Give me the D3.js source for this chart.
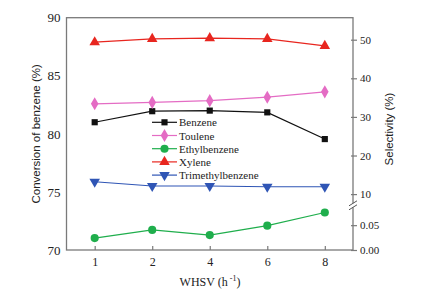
<!DOCTYPE html>
<html>
<head>
<meta charset="utf-8">
<script src="https://cdn.jsdelivr.net/npm/d3@7"></script>
<style>
html,body{margin:0;padding:0;background:#fff;}
svg{display:block;}
</style>
</head>
<body>
<svg id="chart" width="422" height="293"></svg>
<script>
// ---- data ----
const whsv = ["1", "2", "4", "6", "8"];
const benzene = [81.0, 81.95, 82.0, 81.85, 79.55];          // conversion, left axis
const toulene = [33.4, 33.75, 34.2, 35.1, 36.5];            // selectivity, right axis
const ethylbenzene = [0.024, 0.0405, 0.030, 0.049, 0.0755]; // selectivity, right axis (broken part)
const xylene = [49.35, 50.2, 50.4, 50.2, 48.4];             // selectivity, right axis
const trimethylbenzene = [13.2, 12.1, 12.1, 11.9, 11.9];    // selectivity, right axis
const leftTicks = [70, 75, 80, 85, 90];
const rightTicks = [0, 0.05, 10, 20, 30, 40, 50];
const rightTickLabels = ["0.00", "0.05", "10", "20", "30", "40", "50"];

const series = [
  {name: "Benzene", values: benzene, axis: "left", color: "#111111", shape: "square"},
  {name: "Toulene", values: toulene, axis: "right", color: "#e46cc4", shape: "diamond"},
  {name: "Ethylbenzene", values: ethylbenzene, axis: "right", color: "#1fae4c", shape: "circle"},
  {name: "Xylene", values: xylene, axis: "right", color: "#e8261f", shape: "triangle"},
  {name: "Trimethylbenzene", values: trimethylbenzene, axis: "right", color: "#2f55b5", shape: "triangleDown"}
];

// ---- layout ----
const L = 66.5, R = 353, T = 17.7, B = 250;
const breakY = 205.3;
const serif = "'Liberation Serif','Times New Roman',serif";
const sans = "'Liberation Sans',Arial,sans-serif";
const axisColor = "#7a7a7a";

const svg = d3.select("#chart");

const x = d3.scalePoint().domain(whsv).range([L, R]).padding(0.49);
const yL = d3.scaleLinear().domain([70, 90]).range([B, T]);
const yR = d3.scaleLinear().domain([0, 0.09, 7.1, 55.7]).range([B, breakY, breakY, T]);

// frame
svg.append("rect").attr("x", L).attr("y", T).attr("width", R - L).attr("height", B - T)
  .attr("fill", "none").attr("stroke", axisColor).attr("stroke-width", 1.3);

// x axis
const xAxis = d3.axisBottom(x).tickSizeInner(-4).tickSizeOuter(0).tickPadding(7);
const gx = svg.append("g").attr("transform", `translate(0,${B})`).call(xAxis);
gx.select(".domain").remove();
gx.selectAll(".tick line").attr("stroke", axisColor).attr("stroke-width", 1.2);
gx.selectAll(".tick text").attr("font-family", serif).attr("font-size", 12).attr("fill", "#222");

// left axis
const yAxisL = d3.axisLeft(yL).tickValues(leftTicks).tickSizeInner(0).tickSizeOuter(0).tickPadding(6);
const gl = svg.append("g").attr("transform", `translate(${L},0)`).call(yAxisL);
gl.select(".domain").remove();
gl.selectAll(".tick text").attr("font-family", serif).attr("font-size", 13).attr("fill", "#222");

// right axis
const yAxisR = d3.axisRight(yR).tickValues(rightTicks)
  .tickFormat((d, i) => rightTickLabels[i]).tickSizeInner(4).tickSizeOuter(0).tickPadding(3);
const gr = svg.append("g").attr("transform", `translate(${R},0)`).call(yAxisR);
gr.select(".domain").remove();
gr.selectAll(".tick line").attr("stroke", axisColor).attr("stroke-width", 1.2).attr("x1", -2);
gr.selectAll(".tick text").attr("font-family", serif).attr("font-size", 11).attr("fill", "#222");

// axis break marks
svg.append("rect").attr("x", R - 2).attr("y", breakY - 2).attr("width", 4).attr("height", 4).attr("fill", "#fff");
[-2, 2].forEach(o => {
  svg.append("line")
    .attr("x1", R - 4).attr("y1", breakY + o + 2.5)
    .attr("x2", R + 4).attr("y2", breakY + o - 2.5)
    .attr("stroke", "#555").attr("stroke-width", 1);
});

// axis titles
svg.append("text").attr("transform", `translate(40,${(T + B) / 2}) rotate(-90)`)
  .attr("text-anchor", "middle").attr("font-family", sans).attr("font-size", 11.5).attr("fill", "#222")
  .text("Conversion of benzene (%)");
svg.append("text").attr("transform", `translate(393,129) rotate(-90)`)
  .attr("text-anchor", "middle").attr("font-family", sans).attr("font-size", 11.5).attr("fill", "#222")
  .text("Selectivity (%)");
const xt = svg.append("text").attr("x", 210).attr("y", 286).attr("text-anchor", "middle")
  .attr("font-family", serif).attr("font-size", 12).attr("fill", "#222");
xt.append("tspan").text("WHSV (h");
xt.append("tspan").attr("font-size", 8).attr("dy", -5).text(" -1");
xt.append("tspan").attr("dy", 5).text(")");

// markers
const symbolFor = {
  square: d3.symbol().type(d3.symbolSquare).size(38),
  diamond: d3.symbol().type(d3.symbolDiamond).size(50),
  circle: d3.symbol().type(d3.symbolCircle).size(52),
  triangle: d3.symbol().type(d3.symbolTriangle).size(48),
  triangleDown: d3.symbol().type(d3.symbolTriangle).size(48)
};
function drawMarker(g, shape, color, cx, cy) {
  g.append("path").attr("d", symbolFor[shape]())
    .attr("transform", `translate(${cx},${cy})` + (shape === "triangleDown" ? " rotate(180)" : ""))
    .attr("fill", color);
}

series.forEach(s => {
  const ys = s.axis === "left" ? yL : yR;
  const line = d3.line().x((d, i) => x(whsv[i])).y(d => ys(d));
  svg.append("path").datum(s.values).attr("d", line)
    .attr("fill", "none").attr("stroke", s.color).attr("stroke-width", 1.2);
  const g = svg.append("g");
  s.values.forEach((v, i) => drawMarker(g, s.shape, s.color, x(whsv[i]), ys(v)));
});

// legend
const lg = svg.append("g");
series.forEach((s, i) => {
  const yy = 122.3 + i * 13.2;
  lg.append("line").attr("x1", 152).attr("x2", 177).attr("y1", yy).attr("y2", yy)
    .attr("stroke", s.color).attr("stroke-width", 1.2);
  drawMarker(lg, s.shape, s.color, 164.5, yy);
  lg.append("text").attr("x", 179).attr("y", yy + 4).attr("font-family", serif)
    .attr("font-size", 11).attr("fill", "#222").text(s.name);
});
</script>
</body>
</html>
